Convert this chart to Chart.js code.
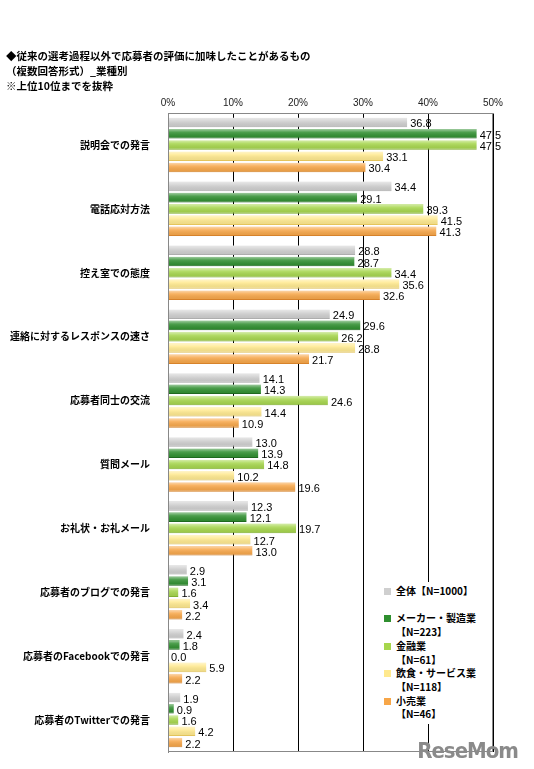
<!DOCTYPE html>
<html>
<head>
<meta charset="utf-8">
<script src="https://cdn.jsdelivr.net/npm/chart.js@4.4.0/dist/chart.umd.min.js"></script>
<style>
  body { margin: 0; background: #fff; font-family: "Noto Sans CJK JP", sans-serif; }
  #wrap { position: relative; width: 534px; height: 769px; }
  .ttl { position: absolute; left: 6px; font-size: 10.5px; font-weight: bold; color: #000; line-height: 13px; }
  #legend { position: absolute; left: 380px; top: 582px; width: 92px; background: #fff; font-size: 10px; font-weight: bold; line-height: 13.7px; padding: 2px 0 3px 4px; }
  #legend .sw { display: inline-block; width: 7px; height: 7px; margin-right: 5px; }
  #legend .n { padding-left: 12px; }
  #logo { position: absolute; right: 16px; bottom: 6px; font: bold 22px "DejaVu Sans Condensed", sans-serif; color: #8a8a8a; letter-spacing: -1px; }
</style>
</head>
<body>
<div id="wrap">
  <canvas id="chart" width="534" height="769"></canvas>
  <div class="ttl" style="top:49px">◆従来の選考過程以外で応募者の評価に加味したことがあるもの</div>
  <div class="ttl" style="top:64px">（複数回答形式）_業種別</div>
  <div class="ttl" style="top:79px">※上位10位までを抜粋</div>
  <div id="legend"></div>
  <div id="logo">ReseMom</div>
</div>
<script>
const categories = ['説明会での発言', '電話応対方法', '控え室での態度', '連絡に対するレスポンスの速さ', '応募者同士の交流',
  '質問メール', 'お礼状・お礼メール', '応募者のブログでの発言', '応募者のFacebookでの発言', '応募者のTwitterでの発言'];
const seriesNames = ['全体【N=1000】', 'メーカー・製造業【N=223】', '金融業【N=61】', '飲食・サービス業【N=118】', '小売業【N=46】'];
const all = [36.8, 34.4, 28.8, 24.9, 14.1, 13.0, 12.3, 2.9, 2.4, 1.9];
const maker = [47.5, 29.1, 28.7, 29.6, 14.3, 13.9, 12.1, 3.1, 1.8, 0.9];
const finance = [47.5, 39.3, 34.4, 26.2, 24.6, 14.8, 19.7, 1.6, 0.0, 1.6];
const food = [33.1, 41.5, 35.6, 28.8, 14.4, 10.2, 12.7, 3.4, 5.9, 4.2];
const retail = [30.4, 41.3, 32.6, 21.7, 10.9, 19.6, 13.0, 2.2, 2.2, 2.2];
const xTicks = [0, 10, 20, 30, 40, 50];

const colors = ['#cfcfcf', '#2f8f2f', '#a6d64c', '#ffe98e', '#f7a648'];
const edges = ['#b8b8b8', '#1f6f1f', '#88bb30', '#f2d060', '#e48a2c'];
const values = [all, maker, finance, food, retail];

// legend, drawn as html so the text stays text
let lg = '';
seriesNames.forEach(function (name, i) {
  const k = name.indexOf('【');
  if (i == 0) {
    lg += '<div><span class="sw" style="background:' + colors[i] + '"></span>' + name + '</div><div>&nbsp;</div>';
  } else {
    lg += '<div><span class="sw" style="background:' + colors[i] + '"></span>' + name.slice(0, k) + '</div>';
    lg += '<div class="n">' + name.slice(k) + '</div>';
  }
});
document.getElementById('legend').innerHTML = lg;

// a light shine over every bar, like the 3d look of the original
const shine = {
  id: 'shine',
  afterDatasetsDraw(chart) {
    const ctx = chart.ctx;
    ctx.save();
    chart.data.datasets.forEach(function (ds, i) {
      chart.getDatasetMeta(i).data.forEach(function (bar) {
        const h = bar.height, top = bar.y - h / 2;
        if (bar.x - bar.base < 1) return;
        const g = ctx.createLinearGradient(0, top, 0, top + h);
        g.addColorStop(0, 'rgba(255,255,255,0.55)');
        g.addColorStop(0.35, 'rgba(255,255,255,0.15)');
        g.addColorStop(1, 'rgba(0,0,0,0.06)');
        ctx.fillStyle = g;
        ctx.fillRect(bar.base, top, bar.x - bar.base, h);
      });
    });
    ctx.restore();
  }
};

const valueLabels = {
  id: 'valueLabels',
  afterDatasetsDraw(chart) {
    const ctx = chart.ctx;
    ctx.save();
    ctx.font = '11px "Liberation Sans", Arial, sans-serif';
    ctx.fillStyle = '#000';
    ctx.textBaseline = 'middle';
    chart.data.datasets.forEach(function (ds, i) {
      chart.getDatasetMeta(i).data.forEach(function (bar, j) {
        ctx.fillText(ds.data[j].toFixed(1), bar.x + 3, bar.y + 2);
      });
    });
    ctx.restore();
  }
};

new Chart(document.getElementById('chart'), {
  type: 'bar',
  data: {
    labels: categories,
    datasets: values.map(function (v, i) {
      return {
        label: seriesNames[i],
        data: v,
        backgroundColor: colors[i],
        borderColor: edges[i],
        borderWidth: { top: 0, bottom: 1, left: 0, right: 0 },
        borderSkipped: false,
        categoryPercentage: 0.88,
        barPercentage: 0.85
      };
    })
  },
  options: {
    indexAxis: 'y',
    responsive: false,
    animation: false,
    layout: { padding: { left: 0, right: 41, top: 0, bottom: 17 } },
    plugins: { legend: { display: false }, tooltip: { enabled: false } },
    scales: {
      x: {
        position: 'top',
        min: 0, max: 50,
        afterBuildTicks: function (s) { s.ticks = xTicks.map(function (v) { return { value: v }; }); },
        afterFit: function (s) { s.height = 113; },
        ticks: {
          callback: function (v) { return v + '%'; },
          font: { size: 10, family: '"Liberation Sans", Arial, sans-serif' },
          color: '#222', padding: 4
        },
        grid: { color: '#000', lineWidth: 1, drawTicks: false },
        border: { color: '#888' }
      },
      y: {
        afterFit: function (s) { s.width = 168; },
        ticks: {
          font: { size: 10, weight: 'bold', family: '"Noto Sans CJK JP", sans-serif' },
          color: '#000', padding: 10
        },
        grid: { display: false },
        border: { color: '#888' }
      }
    }
  },
  plugins: [shine, valueLabels, {
    id: 'frame',
    afterDraw(chart) {
      const a = chart.chartArea, ctx = chart.ctx;
      ctx.save();
      ctx.strokeStyle = '#888';
      ctx.strokeRect(a.left + 0.5, a.top + 0.5, a.right - a.left - 1, a.bottom - a.top - 1);
      ctx.restore();
    }
  }]
});
</script>
</body>
</html>
